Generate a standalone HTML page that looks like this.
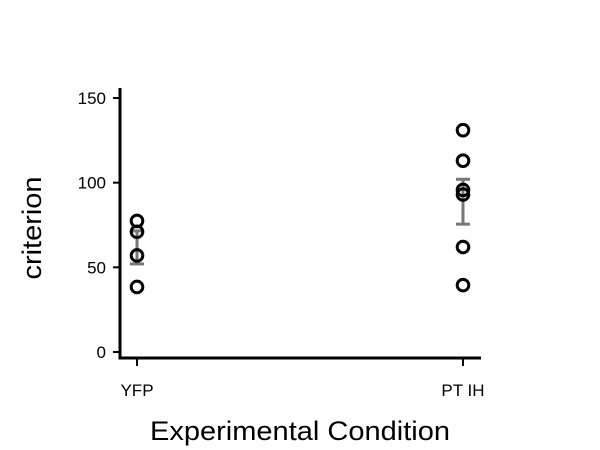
<!DOCTYPE html>
<html><head><meta charset="utf-8"><style>body{margin:0;background:#fff}svg{display:block;font-family:"Liberation Sans",sans-serif}</style></head>
<body>
<svg id="chart" width="600" height="450"></svg>
<script>
const categories = ["YFP", "PT IH"];
const pointsYFP = [77.4, 71, 57, 38.4];
const pointsPTIH = [131, 113, 95.7, 93, 62, 39.5];
const means = [61.9, 89];
const errLow = [52, 75.5];
const errHigh = [71.5, 102];
const yTicks = [0, 50, 100, 150];

const NS = "http://www.w3.org/2000/svg";
const svg = document.getElementById("chart");
const yS = v => 352 - v * (254 / 150);
const xS = i => [137, 463][i];
function mk(tag, attrs, parent) {
  const e = document.createElementNS(NS, tag);
  for (const k in attrs) e.setAttribute(k, attrs[k]);
  (parent || svg).appendChild(e);
  return e;
}
let e = mk("line", {x1: 120, y1: 88, x2: 120, y2: 359.5, stroke: "#000", "stroke-width": 3});


e = mk("line", {x1: 118.5, y1: 358, x2: 481, y2: 358, stroke: "#000", "stroke-width": 3});


yTicks.forEach(t => {
  const y = yS(t);
  let l = mk("line", {x1: 113, y1: y, x2: 120, y2: y, stroke: "#000", "stroke-width": 2});
  
  
  let tx = mk("text", {x: 106, y: y + 6, "text-anchor": "end", "font-size": 17});
  tx.textContent = t;
  
  
});
categories.forEach((c, i) => {
  const x = xS(i);
  let l = mk("line", {x1: x, y1: 358, x2: x, y2: 366, stroke: "#000", "stroke-width": 2});
  
  
  let tx = mk("text", {x: x, y: 396, "text-anchor": "middle", "font-size": 17});
  tx.textContent = c;
  
  
});
categories.forEach((c, i) => {
  const x = xS(i);
  const g = mk("g", {stroke: "#777", "stroke-width": 3});
  
  
  mk("line", {x1: x, y1: yS(errLow[i]), x2: x, y2: yS(errHigh[i])}, g);
  mk("line", {x1: x - 7, y1: yS(errLow[i]), x2: x + 7, y2: yS(errLow[i])}, g);
  mk("line", {x1: x - 7, y1: yS(errHigh[i]), x2: x + 7, y2: yS(errHigh[i])}, g);
});
[pointsYFP, pointsPTIH].forEach((arr, i) => {
  arr.forEach(v => {
    const p = mk("circle", {cx: xS(i), cy: yS(v), r: 5.8, fill: "none", stroke: "#000", "stroke-width": 3});
    
    
  });
});
e = mk("text", {x: 300, y: 440, "text-anchor": "middle", "font-size": 27, textLength: 300, lengthAdjust: "spacingAndGlyphs"});
e.textContent = "Experimental Condition";


e = mk("text", {x: 0, y: 0, "text-anchor": "middle", "font-size": 27, textLength: 103, lengthAdjust: "spacingAndGlyphs", transform: "translate(41,228) rotate(-90)"});
e.textContent = "criterion";


</script>
</body></html>
